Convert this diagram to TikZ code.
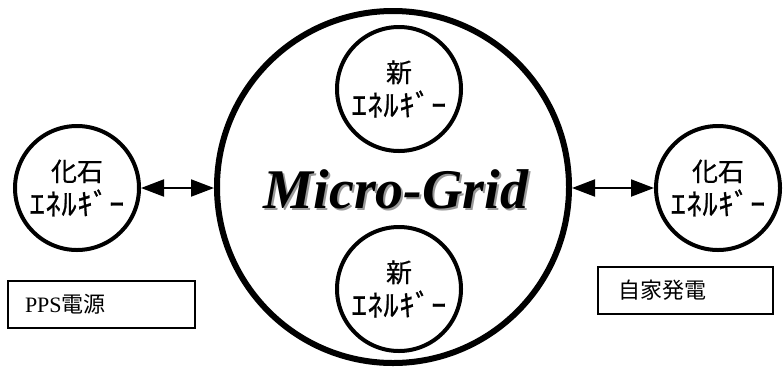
\documentclass[tikz,border=0pt]{standalone}
\usepackage{fontspec}
\setmainfont{Liberation Serif}
\newfontfamily\jpgothic[FakeBold=0.6]{Noto Sans CJK JP}
\newfontfamily\jpbox{Noto Sans CJK JP}
\newfontfamily\jpkana[LetterSpace=3,FakeBold=0.8]{Noto Sans CJK JP}
\usetikzlibrary{arrows.meta}
\begin{document}
\begin{tikzpicture}[x=1pt,y=-1pt,
  energy/.style={circle, draw, line width=4pt, minimum size=124pt, inner sep=0pt,
    align=center, font=\jpgothic\fontsize{26}{34}\selectfont},
  gridc/.style={circle, draw, line width=6pt, minimum size=352pt, inner sep=0pt},
  mgtext/.style={font=\fontsize{56}{60}\selectfont\bfseries\itshape, inner sep=0pt},
  labelbox/.style={draw, line width=1.2pt, inner ysep=0pt, align=left,
    font=\fontsize{22}{26}\selectfont},
  conn/.style={line width=2pt, {Triangle[length=23pt,width=17pt]}-{Triangle[length=23pt,width=17pt]}}
]
\useasboundingbox (0,0) rectangle (783,373);
\newcommand\kana{{\jpkana\fontsize{30}{34}\selectfont ｴﾈﾙｷﾞｰ}}
\node[gridc] (grid) at (393,187) {};
\node[energy] (ntop) at (399,89) {新\\\kana};
\node[energy] (nbot) at (399,289) {新\\\kana};
\node[energy] (lf) at (77,188) {化石\\\kana};
\node[energy] (rf) at (718,188) {化石\\\kana};
\node[mgtext, text=black!40] (mgs) at (398,191) {Micro-Grid};
\node[mgtext, text=black] (mg) at (396,189) {Micro-Grid};
\draw[conn] (lf.east) -- (grid.west |- lf.east);
\draw[conn] (grid.east |- rf.west) -- (rf.west);
\node[labelbox, minimum width=187pt, minimum height=47pt, inner xsep=17pt, text width=153pt] (pps) at (101.5,304.5) {PPS{\jpbox 電源}};
\node[labelbox, minimum width=175pt, minimum height=47pt, inner xsep=20pt, text width=135pt] (jika) at (685.5,290.5) {{\jpbox 自家発電}};
\end{tikzpicture}
\end{document}
